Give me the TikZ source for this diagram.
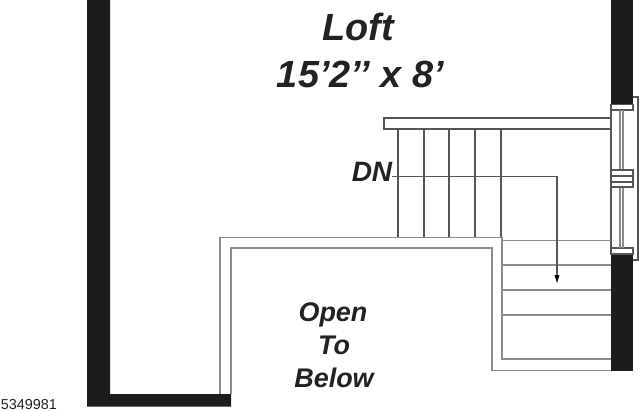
\documentclass[tikz,border=0pt]{standalone}
\usepackage{fontspec}
\setmainfont{Liberation Sans}
\definecolor{wallc}{HTML}{1C1C1C}
\definecolor{linec}{HTML}{555555}
\definecolor{greyc}{HTML}{8C8C8C}
\definecolor{textc}{HTML}{222222}
\tikzset{
  wall/.style={fill=wallc,draw=none},
  thin line/.style={draw=linec,line width=0.8pt},
  grey line/.style={draw=greyc,line width=1.1pt},
  label text/.style={text=textc,font=\bfseries\itshape,inner sep=0pt,anchor=base},
}
\begin{document}
\begin{tikzpicture}[x=0.75pt,y=-0.75pt]
\useasboundingbox (0,0) rectangle (640,411);
% walls
\fill[wall] (87,0) -- (110,0) -- (110,394) -- (231,394) -- (231,406.5) -- (87,406.5) -- cycle;
\fill[wall] (611,0) rectangle (633,104.5);
\fill[wall] (611,254) rectangle (633,371);
% window
\draw[thin line] (611,104.5) -- (611,254);
\draw[thin line] (611,104.5) rectangle (633,110);
\draw[thin line] (611,248) rectangle (633,254);
\draw[thin line] (633,97) -- (638,97) -- (638,260) -- (633,260);
\draw[grey line] (620,110) -- (620,170) (623,110) -- (623,170);
\draw[grey line] (620,187) -- (620,248) (623,187) -- (623,248);
\draw[thin line] (611,170) rectangle (633,187);
\draw[thin line] (611,176) -- (633,176) (611,182) -- (633,182);
% handrail and balusters
\draw[thin line] (611,118) -- (384,118) -- (384,129) -- (611,129);
\foreach \x in {398,424,449,475,501} \draw[thin line] (\x,129) -- (\x,237);
% opening
\draw[grey line] (220,394) -- (220,237.5) -- (502,237.5) -- (502,359) -- (611,359);
\draw[grey line] (231,394) -- (231,248) -- (492,248) -- (492,370.5) -- (611,370.5);
% treads
\foreach \y in {240.5,265,290,315} \draw[grey line] (502,\y) -- (611,\y);
% DN arrow
\node[label text,font=\bfseries\itshape\fontsize{21}{22}\selectfont] (dn) at (372,181) {DN};
\coordinate (bend) at (557,176.5);
\coordinate (tip) at (557,283);
\draw[thin line] (392,176.5) -- (bend) -- (557,276);
\fill[black] (554.5,275) -- (559.5,275) -- (tip) -- cycle;
% labels
\node[label text,font=\bfseries\itshape\fontsize{28.4}{30}\selectfont] (loft) at (358,40) {Loft};
\node[label text,font=\bfseries\itshape\fontsize{28.4}{30}\selectfont] (size) at (360.5,87) {15’2’’ x 8’};
\node[label text,font=\bfseries\itshape\fontsize{20.2}{22}\selectfont] (open) at (333,321) {Open};
\node[label text,font=\bfseries\itshape\fontsize{20.2}{22}\selectfont] (to) at (334,354) {To};
\node[label text,font=\bfseries\itshape\fontsize{20.2}{22}\selectfont] (below) at (334,387) {Below};
\node[text=textc,inner sep=0pt,anchor=base west,font=\fontsize{10.8}{11}\selectfont] (ref) at (0.5,409) {5349981};
\end{tikzpicture}
\end{document}
